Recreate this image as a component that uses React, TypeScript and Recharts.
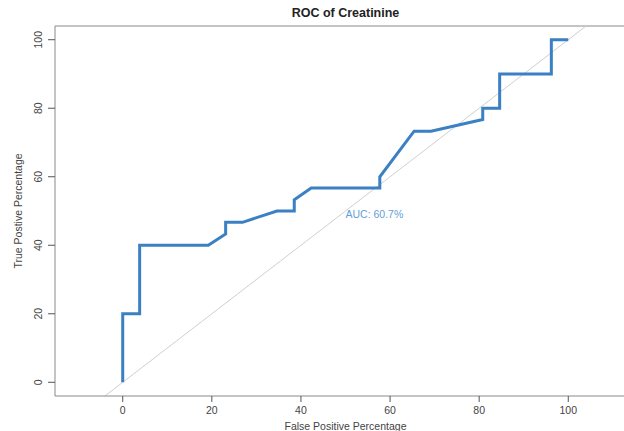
import React from 'react';
import { LineChart, Line, XAxis, YAxis, ReferenceLine, ReferenceDot } from 'recharts';

// ROC curve points (percent)
const fpr = [0, 0, 3.8, 3.8, 19.2, 23.1, 23.1, 26.9, 34.6, 38.5, 38.5, 42.3, 57.7, 57.7, 65.4, 69.2, 80.8, 80.8, 84.6, 84.6, 96.2, 96.2, 100];
const tpr = [0, 20, 20, 40, 40, 43.3, 46.7, 46.7, 50, 50, 53.3, 56.7, 56.7, 60, 73.3, 73.3, 76.7, 80, 80, 90, 90, 100, 100];

const xTicks = [0, 20, 40, 60, 80, 100];
const yTicks = [0, 20, 40, 60, 80, 100];
const xDomain = [-15.2, 115.2];
const yDomain = [-4, 104];

const title = 'ROC of Creatinine';
const xTitle = 'False Positive Percentage';
const yTitle = 'True Postive Percentage';
const aucText = 'AUC: 60.7%';
const aucPos = { x: 50, y: 50 };

const data = fpr.map((x, i) => ({ fpr: x, tpr: tpr[i] }));

const FONT = '"Liberation Sans", Arial, sans-serif';
const BOX = '#8a8a8a';
const TEXT = '#444';

function YTick(props: any) {
  const { x, y, payload } = props;
  return (
    <text x={x} y={y} transform={`rotate(-90, ${x}, ${y})`} textAnchor='middle' fontSize={10.5} fill={TEXT} fontFamily={FONT}>
      {payload.value}
    </text>
  );
}

export default function App() {
  return (
    <div style={{ position: 'absolute', left: 0, top: 0, width: 624, height: 431, overflow: 'hidden', background: '#fff' }}>
      <div style={{ position: 'absolute', left: 0, top: 6, width: 691, textAlign: 'center', fontFamily: FONT, fontWeight: 'bold', fontSize: 12.5, color: '#222' }}>
        {title}
      </div>
      <LineChart width={660} height={431} data={data} margin={{ top: 26, right: 24, bottom: 0, left: 0 }}>
        <XAxis
          dataKey='fpr'
          type='number'
          domain={xDomain}
          ticks={xTicks}
          allowDataOverflow
          height={35}
          tickSize={6}
          tickMargin={5}
          stroke={BOX}
          tickLine={{ stroke: '#555' }}
          tick={{ fontSize: 10.5, fill: TEXT, fontFamily: FONT }}
          label={{
            content: (p: any) => {
              const vb = p.viewBox;
              return (
                <text x={vb.x + vb.width / 2} y={vb.y + vb.height - 1.5} textAnchor='middle' fontSize={10.5} fill={TEXT} fontFamily={FONT}>
                  {xTitle}
                </text>
              );
            },
          }}
        />
        <YAxis
          type='number'
          domain={yDomain}
          ticks={yTicks}
          allowDataOverflow
          width={55}
          tickSize={7}
          tickMargin={6}
          stroke={BOX}
          tickLine={{ stroke: '#555' }}
          tick={<YTick />}
          label={{
            content: (p: any) => {
              const vb = p.viewBox;
              const cx = vb.x + 22;
              const cy = vb.y + vb.height / 2;
              return (
                <text x={cx} y={cy} transform={`rotate(-90, ${cx}, ${cy})`} textAnchor='middle' fontSize={10.5} fill={TEXT} fontFamily={FONT}>
                  {yTitle}
                </text>
              );
            },
          }}
        />
        <ReferenceLine y={yDomain[1]} stroke={BOX} ifOverflow='visible' />
        <ReferenceLine x={xDomain[1]} stroke={BOX} ifOverflow='visible' />
        <ReferenceLine
          segment={[{ x: yDomain[0], y: yDomain[0] }, { x: yDomain[1], y: yDomain[1] }]}
          stroke='#cfcfcf'
          strokeWidth={1}
          ifOverflow='visible'
        />
        <Line
          type='linear'
          dataKey='tpr'
          stroke='#3a80c3'
          strokeWidth={3}
          dot={false}
          activeDot={false}
          isAnimationActive={false}
        />
        <ReferenceDot
          x={aucPos.x}
          y={aucPos.y}
          r={1}
          fill='none'
          stroke='none'
          ifOverflow='visible'
          label={{
            content: (p: any) => {
              const vb = p.viewBox;
              return (
                <text x={vb.x + vb.width / 2} y={vb.y + vb.height / 2 + 7} textAnchor='start' fontSize={10.5} fill='#5fa0d8' fontFamily={FONT}>
                  {aucText}
                </text>
              );
            },
          }}
        />
      </LineChart>
    </div>
  );
}
